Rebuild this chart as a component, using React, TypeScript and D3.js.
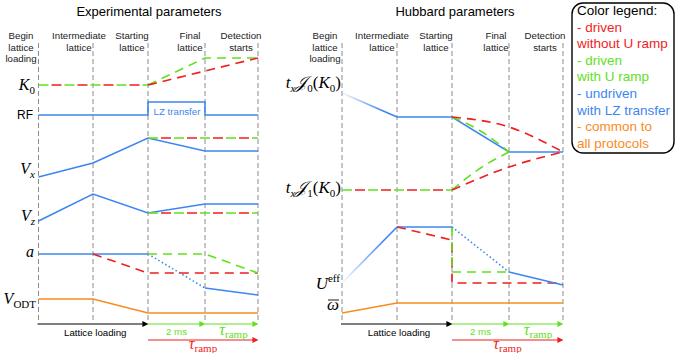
import React from 'react';
import * as d3 from 'd3';

// stage boundaries, shared by both panels
const stages = [0, 1, 2, 3, 4];
const headers = [
  ['Begin', 'lattice', 'loading'],
  ['Intermediate', 'lattice'],
  ['Starting', 'lattice'],
  ['Final', 'lattice'],
  ['Detection', 'starts'],
];

// levels: height above the time axis (stage index, level)
// experimental panel
const k0Both = [[0, 240], [2, 240]];
const k0Green = [[2, 240], [3, 267], [4, 267]];
const k0Red = [[2, 240], [4, 267]];
const rfBlue = [[0, 210], [2, 210], [2, 223], [3, 223], [3, 210], [4, 210]];
const vxBlue = [[0, 148], [1, 162], [2, 187], [3, 174], [4, 174]];
const vxBoth = [[2, 187], [4, 187]];
const vzBlue = [[0, 104], [1, 131], [2, 112], [3, 121], [4, 121]];
const vzBoth = [[2, 112], [4, 112]];
const aBlue = [[0, 71], [2, 71]];
const aBlueDot = [[2, 71], [3, 37]];
const aBlueEnd = [[3, 37], [4, 30]];
const aRed = [[1, 71], [2, 52], [4, 52]];
const aGreen = [[2, 71], [3, 71], [4, 52]];
const vOdt = [[0, 26], [1, 26], [2, 12], [4, 12]];

// hubbard panel
const j0Fade = [[0, 232], [1, 208]];
const j0Blue = [[1, 208], [2, 208], [3, 173], [4, 173]];
const j0Green = [[2, 208], [2.5, 194], [3, 173]];
const j0Red = [[2, 208], [3, 198], [4, 173]];
const j1Both = [[0, 135], [2, 135]];
const j1Green = [[2, 135], [2.5, 157], [3, 173]];
const j1Red = [[2, 135], [3, 158], [4, 173]];
const uFade = [[0, 42], [1, 98]];
const uBlue = [[1, 98], [2, 98]];
const uBlueDot = [[2, 98], [3, 53]];
const uBlueEnd = [[3, 53], [4, 40]];
const uRed = [[1, 98], [2, 85], [2, 42], [4, 42]];
const uGreen = [[2, 98], [2, 53], [3, 53]];
const omega = [[0, 12], [1, 22], [4, 22]];

const legendLines = [
  { t: 'Color legend:', c: 'black' },
  { t: '- driven', c: 'red' },
  { t: 'without U ramp', c: 'red' },
  { t: '- driven', c: 'green' },
  { t: 'with U ramp', c: 'green' },
  { t: '- undriven', c: 'blue' },
  { t: 'with LZ transfer', c: 'blue' },
  { t: '- common to', c: 'orange' },
  { t: 'all protocols', c: 'orange' },
];

const COL = {
  red: '#f01e1e',
  green: '#62e01c',
  blue: '#3d86f0',
  orange: '#fa8c1e',
  black: '#000',
};

const W = 677;
const H = 353;
const sans = '"Liberation Sans", Arial, sans-serif';
const serif = '"Liberation Serif", "Times New Roman", serif';

const xL = d3.scaleLinear().domain(stages).range([38.5, 93, 148, 205, 258]);
const xR = d3.scaleLinear().domain(stages).range([342, 397, 452, 509, 563]);
const y = d3.scaleLinear().domain([0, 280]).range([325, 45]);

const mkLine = (x, curve = d3.curveLinear) =>
  d3.line<number[]>().x(d => x(d[0])).y(d => y(d[1])).curve(curve);

function Trace({ pts, x, color, dash = null, offset = 0, curve = d3.curveLinear, stroke = null }) {
  return (
    <path
      d={mkLine(x, curve)(pts)}
      fill="none"
      stroke={stroke || color}
      strokeWidth={1.6}
      strokeDasharray={dash || undefined}
      strokeDashoffset={offset}
    />
  );
}

// green and red dashes taking turns on the same segment
function Both({ pts, x }) {
  return (
    <g>
      <Trace pts={pts} x={x} color={COL.green} dash="10 16" />
      <Trace pts={pts} x={x} color={COL.red} dash="10 16" offset={13} />
    </g>
  );
}

function Panel({ x, title, titleX, children, labelX }) {
  return (
    <g>
      <text x={titleX} y={16} textAnchor="middle" fontFamily={sans} fontSize={13}>{title}</text>
      {headers.map((lines, i) => (
        <text key={i} x={labelX[i]} textAnchor="middle" fontFamily={sans} fontSize={9.7} fill="#222">
          {lines.map((l, j) => <tspan key={j} x={labelX[i]} y={39 + j * 11.5}>{l}</tspan>)}
        </text>
      ))}
      {stages.map(s => (
        <line key={s} x1={x(s)} x2={x(s)} y1={43} y2={322} stroke="#808080" strokeWidth={0.9} strokeDasharray="5 3" />
      ))}
      {children}
      {/* time arrows */}
      <line x1={x(0) - 1} x2={x(2) - 5} y1={324} y2={324} stroke="black" strokeWidth={1.2} markerEnd="url(#arrK)" />
      <line x1={x(2)} x2={x(3) - 5} y1={324} y2={324} stroke={COL.green} strokeWidth={1.2} markerEnd="url(#arrG)" />
      <line x1={x(3)} x2={x(4) - 5} y1={324} y2={324} stroke={COL.green} strokeWidth={1.2} markerEnd="url(#arrG)" />
      <line x1={x(2)} x2={x(4) - 5} y1={340} y2={340} stroke={COL.red} strokeWidth={1.2} markerEnd="url(#arrR)" />
      <text x={(x(0) + x(2)) / 2 + 2} y={336} textAnchor="middle" fontFamily={sans} fontSize={9.7}>Lattice loading</text>
      <text x={(x(2) + x(3)) / 2} y={335} textAnchor="middle" fontFamily={sans} fontSize={9.7} fill={COL.green}>2 ms</text>
      <text x={(x(3) + x(4)) / 2 + 2} y={335} textAnchor="middle" fill={COL.green} fontFamily={serif}>
        <tspan fontStyle="italic" fontSize={16}>τ</tspan><tspan fontSize={11} dy={3}>ramp</tspan>
      </text>
      <text x={(x(2) + x(4)) / 2} y={349} textAnchor="middle" fill={COL.red} fontFamily={serif}>
        <tspan fontStyle="italic" fontSize={16}>τ</tspan><tspan fontSize={11} dy={3}>ramp</tspan>
      </text>
    </g>
  );
}

function Sub({ children }) {
  return <tspan fontSize={11} dy={4} fontStyle="normal">{children}</tspan>;
}

export default function App() {
  const fadeGrad = (id, a, b) => (
    <linearGradient id={id} gradientUnits="userSpaceOnUse" x1={xR(a[0])} y1={y(a[1])} x2={xR(b[0])} y2={y(b[1])}>
      <stop offset="0" stopColor={COL.blue} stopOpacity={0.04} />
      <stop offset="0.75" stopColor={COL.blue} stopOpacity={1} />
    </linearGradient>
  );
  const marker = (id, c) => (
    <marker id={id} viewBox="0 0 10 10" refX={1} refY={5} markerWidth={6} markerHeight={6} markerUnits="userSpaceOnUse" orient="auto">
      <path d="M0,0L10,5L0,10Z" fill={c} />
    </marker>
  );
  return (
    <svg width={W} height={H} style={{ position: 'absolute', left: 0, top: 0, background: 'white' }}>
      <defs>
        {fadeGrad('fadeJ0', j0Fade[0], j0Fade[1])}
        {fadeGrad('fadeU', uFade[0], uFade[1])}
        {marker('arrK', 'black')}
        {marker('arrG', COL.green)}
        {marker('arrR', COL.red)}
      </defs>

      <Panel x={xL} title="Experimental parameters" titleX={149} labelX={[21, 79, 132, 190, 241]}>
        {/* row labels */}
        <g fontFamily={serif} fontSize={16} textAnchor="end">
          <text x={35} y={90}><tspan fontStyle="italic">K</tspan><Sub>0</Sub></text>
          <text x={33} y={119} fontFamily={sans} fontSize={12}>RF</text>
          <text x={35} y={174}><tspan fontStyle="italic">V</tspan><tspan fontStyle="italic" fontSize={11} dy={4}>x</tspan></text>
          <text x={35} y={221}><tspan fontStyle="italic">V</tspan><tspan fontStyle="italic" fontSize={11} dy={4}>z</tspan></text>
          <text x={34} y={257} fontStyle="italic">a</text>
          <text x={36} y={304}><tspan fontStyle="italic">V</tspan><Sub>ODT</Sub></text>
        </g>
        <Both pts={k0Both} x={xL} />
        <Trace pts={k0Green} x={xL} color={COL.green} dash="9 6" />
        <Trace pts={k0Red} x={xL} color={COL.red} dash="9 6" />
        <Trace pts={rfBlue} x={xL} color={COL.blue} />
        <text x={177} y={115} textAnchor="middle" fontFamily={sans} fontSize={9.7} fill={COL.blue}>LZ transfer</text>
        <Trace pts={vxBlue} x={xL} color={COL.blue} />
        <Both pts={vxBoth} x={xL} />
        <Trace pts={vzBlue} x={xL} color={COL.blue} />
        <Both pts={vzBoth} x={xL} />
        <Trace pts={aBlue} x={xL} color={COL.blue} />
        <Trace pts={aBlueDot} x={xL} color={COL.blue} dash="1.5 2.5" />
        <Trace pts={aBlueEnd} x={xL} color={COL.blue} />
        <Trace pts={aRed} x={xL} color={COL.red} dash="9 6" />
        <Trace pts={aGreen} x={xL} color={COL.green} dash="9 6" />
        <Trace pts={vOdt} x={xL} color={COL.orange} />
      </Panel>

      <Panel x={xR} title="Hubbard parameters" titleX={455} labelX={[325, 382, 436, 496, 545]}>
        <g fontFamily={serif} fontSize={17} textAnchor="end">
          <text x={341} y={88}>
            <tspan fontStyle="italic">t</tspan><tspan fontStyle="italic" fontSize={11} dy={4}>x</tspan>
            <tspan fontStyle="italic" dy={-4}>𝒥</tspan><Sub>0</Sub>
            <tspan dy={-4}>(</tspan><tspan fontStyle="italic">K</tspan><Sub>0</Sub><tspan dy={-4}>)</tspan>
          </text>
          <text x={341} y={193}>
            <tspan fontStyle="italic">t</tspan><tspan fontStyle="italic" fontSize={11} dy={4}>x</tspan>
            <tspan fontStyle="italic" dy={-4}>𝒥</tspan><Sub>1</Sub>
            <tspan dy={-4}>(</tspan><tspan fontStyle="italic">K</tspan><Sub>0</Sub><tspan dy={-4}>)</tspan>
          </text>
          <text x={340} y={289}>
            <tspan fontStyle="italic">U</tspan><tspan fontSize={11} dy={-7}>eff</tspan>
          </text>
          <text x={339} y={310} fontStyle="italic">ω</text>
        </g>
        <line x1={328} x2={339} y1={300} y2={300} stroke="black" strokeWidth={0.9} />
        <path d={mkLine(xR)(j0Fade)} fill="none" stroke="url(#fadeJ0)" strokeWidth={1.6} />
        <Trace pts={j0Blue} x={xR} color={COL.blue} />
        <Trace pts={j0Green} x={xR} color={COL.green} dash="9 6" curve={d3.curveMonotoneX} />
        <Trace pts={j0Red} x={xR} color={COL.red} dash="9 6" curve={d3.curveMonotoneX} />
        <Both pts={j1Both} x={xR} />
        <Trace pts={j1Green} x={xR} color={COL.green} dash="9 6" curve={d3.curveMonotoneX} />
        <Trace pts={j1Red} x={xR} color={COL.red} dash="9 6" curve={d3.curveMonotoneX} />
        <path d={mkLine(xR)(uFade)} fill="none" stroke="url(#fadeU)" strokeWidth={1.6} />
        <Trace pts={uBlue} x={xR} color={COL.blue} />
        <Trace pts={uRed} x={xR} color={COL.red} dash="9 6" />
        <Trace pts={uGreen} x={xR} color={COL.green} dash="9 6" />
        <Trace pts={uBlueDot} x={xR} color={COL.blue} dash="1.5 2.5" />
        <Trace pts={uBlueEnd} x={xR} color={COL.blue} />
        <Trace pts={omega} x={xR} color={COL.orange} />
      </Panel>

      {/* legend */}
      <rect x={572} y={3} width={102} height={150} rx={11} fill="white" stroke="black" strokeWidth={1.4} />
      {legendLines.map((l, i) => (
        <text key={i} x={577} y={15 + i * 16.6} fontFamily={sans} fontSize={13.5} fill={COL[l.c]}>{l.t}</text>
      ))}
    </svg>
  );
}
